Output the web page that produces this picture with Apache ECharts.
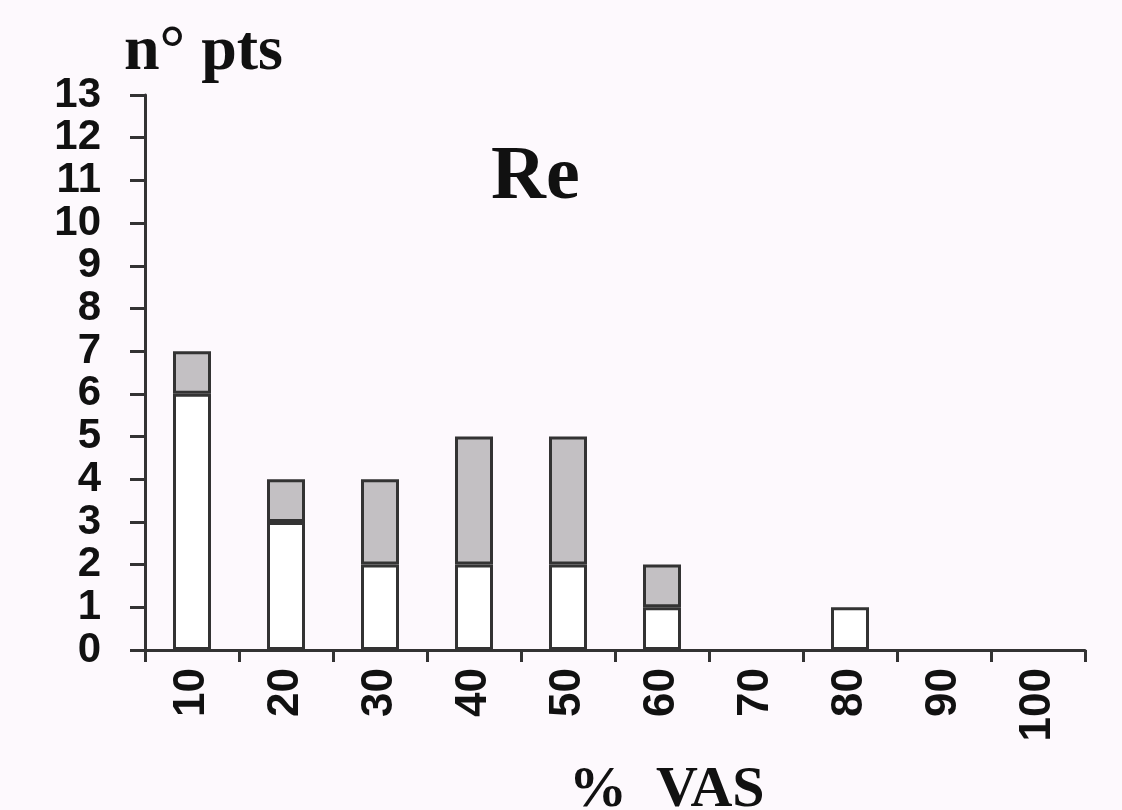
<!DOCTYPE html>
<html>
<head>
<meta charset="utf-8">
<script src="https://cdn.jsdelivr.net/npm/echarts@6/dist/echarts.min.js"></script>
<style>
html,body{margin:0;padding:0;background:#fdf9fd;}
#chart{width:1122px;height:810px;}
</style>
</head>
<body>
<div id="chart"></div>
<script>
const categories = ['10','20','30','40','50','60','70','80','90','100'];
const whiteValues = [6, 3, 2, 2, 2, 1, 0, 1, 0, 0];
const grayValues  = [1, 1, 2, 3, 3, 1, 0, 0, 0, 0];
const yTicks = [0,1,2,3,4,5,6,7,8,9,10,11,12,13];

const chart = echarts.init(document.getElementById('chart'));
const axisColor = '#333333';
const sans = '"Liberation Sans", Arial, sans-serif';
const serif = '"Liberation Serif", "Times New Roman", serif';
// empty (zero) segments are not drawn in the reference
const hideZero = arr => arr.map(v => (v === 0 ? '-' : v));

chart.setOption({
  backgroundColor: '#fdf9fd',
  animation: false,
  title: [
    { text: 'n° pts', left: 119, top: 15,
      textStyle: { fontFamily: serif, fontWeight: 'bold', fontSize: 64, color: '#111' } },
    { text: 'Re', left: 486, top: 135,
      textStyle: { fontFamily: serif, fontWeight: 'bold', fontSize: 76, color: '#111' } },
    { text: '%  VAS', left: 564, top: 757,
      textStyle: { fontFamily: serif, fontWeight: 'bold', fontSize: 58, color: '#111' } }
  ],
  grid: { left: 145, right: 37, top: 95, bottom: 160, containLabel: false },
  xAxis: {
    type: 'category',
    data: categories,
    boundaryGap: true,
    axisLine: { show: true, lineStyle: { color: axisColor, width: 3 } },
    axisTick: { show: true, length: 12, lineStyle: { color: axisColor, width: 3 } },
    axisLabel: {
      rotate: 90, margin: 18, interval: 0,
      fontFamily: sans, fontWeight: 'bold', fontSize: 44, color: '#111'
    },
    splitLine: { show: false }
  },
  yAxis: {
    type: 'value',
    min: 0, max: 13, interval: 1,
    axisLine: { show: true, lineStyle: { color: axisColor, width: 3 } },
    axisTick: { show: true, length: 15, lineStyle: { color: axisColor, width: 3 } },
    axisLabel: {
      margin: 44, showMinLabel: true, showMaxLabel: true,
      fontFamily: sans, fontWeight: 'bold', fontSize: 42, color: '#111',
      formatter: v => yTicks.includes(v) ? String(v) : ''
    },
    splitLine: { show: false }
  },
  series: [
    {
      type: 'bar', stack: 'total', data: hideZero(whiteValues), barWidth: 38,
      itemStyle: { color: '#ffffff', borderColor: axisColor, borderWidth: 3 }
    },
    {
      type: 'bar', stack: 'total', data: hideZero(grayValues), barWidth: 38,
      itemStyle: { color: '#c3c0c3', borderColor: axisColor, borderWidth: 3 }
    }
  ]
});
</script>
</body>
</html>
